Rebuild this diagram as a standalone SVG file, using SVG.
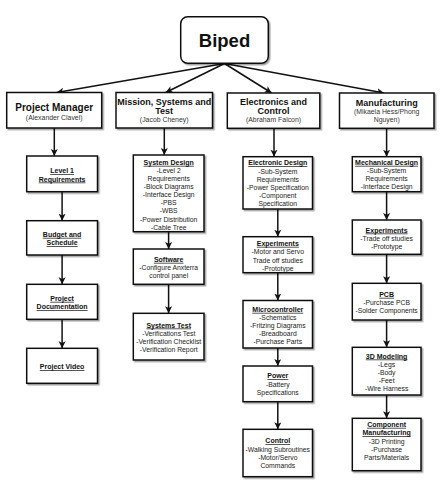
<svg xmlns="http://www.w3.org/2000/svg" width="443" height="480" viewBox="0 0 443 480">
<defs>
<marker id="arr" markerUnits="userSpaceOnUse" markerWidth="8" markerHeight="8" refX="7" refY="3.5" orient="auto">
<path d="M0,0 L7,3.5 L0,7 L1.8,3.5 Z" fill="#111"/>
</marker>
<filter id="sh" x="-10%" y="-10%" width="130%" height="130%">
<feDropShadow dx="1.5" dy="1.5" stdDeviation="0.7" flood-color="#000" flood-opacity="0.35"/>
</filter>
</defs>
<style>
rect{fill:#fff;stroke:#111;stroke-width:1.5;filter:url(#sh)}
text{font-family:"Liberation Sans",Arial,sans-serif;text-anchor:middle;fill:#222}
.b{font-size:6.8px}
.t{font-size:7px;font-weight:bold;text-decoration:underline;fill:#111}
.h{font-weight:bold;fill:#111}
.s{font-size:6.9px;fill:#333}
#conn path{fill:none;stroke:#111;stroke-width:1.5;marker-end:url(#arr)}
</style>
<rect width="443" height="480" style="fill:#fff;stroke:none;filter:none"/>
<g id="conn">
<path d="M224.5,63.5 L56.7,92.5"/>
<path d="M224.5,63.5 L165.7,92.5"/>
<path d="M224.5,63.5 L271.7,93"/>
<path d="M224.5,63.5 L384,93"/>
<path d="M54.3,128 V156"/>
<path d="M62.1,191.7 V220.7"/>
<path d="M62.1,255 V284.3"/>
<path d="M62.1,319.3 V348.3"/>
<path d="M164.3,128 V155"/>
<path d="M168.6,231.7 V249"/>
<path d="M168.6,284.3 V313.3"/>
<path d="M274,128.3 V156.7"/>
<path d="M277.8,209 V236.7"/>
<path d="M277.8,272.7 V300.5"/>
<path d="M277.8,348 V366"/>
<path d="M277.8,401.7 V429.3"/>
<path d="M386.6,128.3 V156.7"/>
<path d="M386.6,191.7 V220"/>
<path d="M386.6,254.3 V283.3"/>
<path d="M386.6,320 V347.3"/>
<path d="M386.6,395 V418.3"/>
</g>
<g id="biped">
<rect x="180.7" y="16.7" width="87.6" height="46.6" rx="7"/>
<text x="224.5" y="47" class="h" style="font-size:18.5px">Biped</text>
</g>
<g id="pm">
<rect x="6.7" y="92.5" width="95" height="35.5"/>
<text x="54.2" y="111.2" class="h" style="font-size:10px">Project Manager</text>
<text x="54.2" y="119.7" class="s">(Alexander Clavel)</text>
</g>
<g id="mst">
<rect x="116" y="92.5" width="96.5" height="35.5"/>
<text x="164.2" y="104.9" class="h" style="font-size:9px">Mission, Systems and</text>
<text x="164.2" y="114.2" class="h" style="font-size:9px">Test</text>
<text x="164.2" y="122.4" class="s">(Jacob Cheney)</text>
</g>
<g id="ec">
<rect x="227.3" y="93" width="92.5" height="35.3"/>
<text x="273.5" y="104.9" class="h" style="font-size:9px">Electronics and</text>
<text x="273.5" y="114.2" class="h" style="font-size:9px">Control</text>
<text x="273.5" y="121.9" class="s">(Abraham Falcon)</text>
</g>
<g id="mfg">
<rect x="339.5" y="93" width="94.5" height="35.3"/>
<text x="386.7" y="105.5" class="h" style="font-size:9px">Manufacturing</text>
<text x="386.7" y="114.1" class="s">(Mikaela Hess/Phong</text>
<text x="386.7" y="121.6" class="s">Nguyen)</text>
</g>
<g id="level1">
<rect x="26.7" y="156" width="70.8" height="35.7"/>
<text x="62.1" y="173.2" class="t">Level 1</text>
<text x="62.1" y="181.5" class="t">Requirements</text>
</g>
<g id="budget">
<rect x="26.7" y="220.7" width="70.8" height="34.3"/>
<text x="62.1" y="236.8" class="t">Budget and</text>
<text x="62.1" y="245.2" class="t">Schedule</text>
</g>
<g id="projdoc">
<rect x="26.7" y="284.3" width="70.8" height="35"/>
<text x="62.1" y="300.8" class="t">Project</text>
<text x="62.1" y="309.2" class="t">Documentation</text>
</g>
<g id="video">
<rect x="26.7" y="348.3" width="70.8" height="35"/>
<text x="62.1" y="369.2" class="t">Project Video</text>
</g>
<g id="sysdesign">
<rect x="133.3" y="155" width="70.7" height="76.7"/>
<text x="168.7" y="164.8" class="t">System Design</text>
<text x="168.7" y="172.9" class="b">-Level 2</text>
<text x="168.7" y="181" class="b">Requirements</text>
<text x="168.7" y="189.1" class="b">-Block Diagrams</text>
<text x="168.7" y="197.2" class="b">-Interface Design</text>
<text x="168.7" y="205.3" class="b">-PBS</text>
<text x="168.7" y="213.4" class="b">-WBS</text>
<text x="168.7" y="221.5" class="b">-Power Distribution</text>
<text x="168.7" y="229.6" class="b">-Cable Tree</text>
</g>
<g id="software">
<rect x="133.3" y="249" width="70.7" height="35.3"/>
<text x="168.7" y="261.8" class="t">Software</text>
<text x="168.7" y="270.2" class="b">-Configure Anxterra</text>
<text x="168.7" y="278.2" class="b">control panel</text>
</g>
<g id="systest">
<rect x="133.3" y="313.3" width="70.7" height="46.7"/>
<text x="168.7" y="327.5" class="t">Systems Test</text>
<text x="168.7" y="335.8" class="b">-Verifications Test</text>
<text x="168.7" y="343.6" class="b">-Verification Checklist</text>
<text x="168.7" y="351.5" class="b">-Verification Report</text>
</g>
<g id="elecdesign">
<rect x="243" y="156.7" width="69.5" height="52.3"/>
<text x="277.8" y="165.2" class="t">Electronic Design</text>
<text x="277.8" y="173.5" class="b">-Sub-System</text>
<text x="277.8" y="181.6" class="b">Requirements</text>
<text x="277.8" y="189.7" class="b">-Power Specification</text>
<text x="277.8" y="197.8" class="b">-Component</text>
<text x="277.8" y="205.9" class="b">Specification</text>
</g>
<g id="expe">
<rect x="243" y="236.7" width="69.5" height="36"/>
<text x="277.8" y="245.8" class="t">Experiments</text>
<text x="277.8" y="254.2" class="b">-Motor and Servo</text>
<text x="277.8" y="262.5" class="b">Trade off studies</text>
<text x="277.8" y="270.6" class="b">-Prototype</text>
</g>
<g id="micro">
<rect x="243" y="300.5" width="69.5" height="47.5"/>
<text x="277.8" y="311.8" class="t">Microcontroller</text>
<text x="277.8" y="320.1" class="b">-Schematics</text>
<text x="277.8" y="328.2" class="b">-Fritzing Diagrams</text>
<text x="277.8" y="336.4" class="b">-Breadboard</text>
<text x="277.8" y="344.3" class="b">-Purchase Parts</text>
</g>
<g id="power">
<rect x="243" y="366" width="69.5" height="35.7"/>
<text x="277.8" y="378.2" class="t">Power</text>
<text x="277.8" y="386.7" class="b">-Battery</text>
<text x="277.8" y="394.8" class="b">Specifications</text>
</g>
<g id="control">
<rect x="243" y="429.3" width="69.5" height="47.4"/>
<text x="277.8" y="443.2" class="t">Control</text>
<text x="277.8" y="451.7" class="b">-Walking Subroutines</text>
<text x="277.8" y="459.8" class="b">-Motor/Servo</text>
<text x="277.8" y="468.1" class="b">Commands</text>
</g>
<g id="mechdesign">
<rect x="352.3" y="156.7" width="68.7" height="35"/>
<text x="386.6" y="164.8" class="t">Mechanical Design</text>
<text x="386.6" y="173.2" class="b">-Sub-System</text>
<text x="386.6" y="181.2" class="b">Requirements</text>
<text x="386.6" y="189.2" class="b">-Interface Design</text>
</g>
<g id="expm">
<rect x="352.3" y="220" width="68.7" height="34.3"/>
<text x="386.6" y="232.5" class="t">Experiments</text>
<text x="386.6" y="240.8" class="b">-Trade off studies</text>
<text x="386.6" y="249.2" class="b">-Prototype</text>
</g>
<g id="pcb">
<rect x="352.3" y="283.3" width="68.7" height="36.7"/>
<text x="386.6" y="296.8" class="t">PCB</text>
<text x="386.6" y="305.2" class="b">-Purchase PCB</text>
<text x="386.6" y="313.2" class="b">-Solder Components</text>
</g>
<g id="modeling">
<rect x="352.3" y="347.3" width="68.7" height="47.7"/>
<text x="386.6" y="358.5" class="t">3D Modeling</text>
<text x="386.6" y="366.8" class="b">-Legs</text>
<text x="386.6" y="374.8" class="b">-Body</text>
<text x="386.6" y="382.6" class="b">-Feet</text>
<text x="386.6" y="390.8" class="b">-Wire Harness</text>
</g>
<g id="compmfg">
<rect x="352.3" y="418.3" width="68.7" height="52.4"/>
<text x="386.6" y="426.8" class="t">Component</text>
<text x="386.6" y="435.2" class="t">Manufacturing</text>
<text x="386.6" y="443.5" class="b">-3D Printing</text>
<text x="386.6" y="451.8" class="b">-Purchase</text>
<text x="386.6" y="459.8" class="b">Parts/Materials</text>
</g>
</svg>
